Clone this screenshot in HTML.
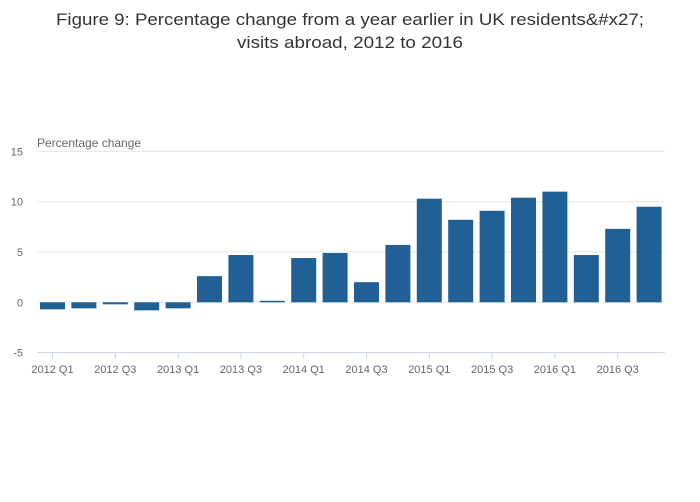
<!DOCTYPE html>
<html><head><meta charset="utf-8"><style>
body{margin:0;background:#fff;}
svg{display:block;font-family:"Liberation Sans",sans-serif;}
</style></head><body>
<svg id="chart" width="700" height="502">
<text x="350" y="25" text-anchor="middle" font-size="17" fill="#333" textLength="588" lengthAdjust="spacingAndGlyphs">Figure 9: Percentage change from a year earlier in UK residents&amp;#x27;</text>
<text x="350" y="48" text-anchor="middle" font-size="17" fill="#333" textLength="226" lengthAdjust="spacingAndGlyphs">visits abroad, 2012 to 2016</text>
<text x="37" y="147" font-size="12" fill="#666">Percentage change</text>
<g id="grid"></g><g id="bars"></g><g id="xaxis"></g>
</svg>
<script>
const categories=["2012 Q1","2012 Q2","2012 Q3","2012 Q4","2013 Q1","2013 Q2","2013 Q3","2013 Q4","2014 Q1","2014 Q2","2014 Q3","2014 Q4","2015 Q1","2015 Q2","2015 Q3","2015 Q4","2016 Q1","2016 Q2","2016 Q3","2016 Q4"];
const values=[-0.7,-0.6,-0.2,-0.8,-0.6,2.6,4.7,0.15,4.4,4.9,2.0,5.7,10.3,8.2,9.1,10.4,11.0,4.7,7.3,9.5];
const yTicks=[-5,0,5,10,15];
const ns="http://www.w3.org/2000/svg";
const x0=37,x1=665,step=31.4,firstC=52.5,barW=25;
function y(v){return 302.3-v*10.06;}
function xc(i){return firstC+i*step;}
function mk(t,a,p){const e=document.createElementNS(ns,t);for(const k in a)e.setAttribute(k,a[k]);p.appendChild(e);return e;}
const grid=document.getElementById('grid');
yTicks.forEach(v=>{
  if(v!==-5){const l=mk('line',{x1:x0,x2:x1,y1:y(v),y2:y(v),stroke:'#e6e6e6','stroke-width':1},grid);
  
  }
  const t=mk('text',{x:23,y:y(v)+4,'text-anchor':'end','font-size':11,fill:'#666'},grid);
  t.textContent=v;
  
  
});
const bars=document.getElementById('bars');
values.forEach((v,i)=>{
  const top=Math.min(y(v),y(0)),h=Math.abs(y(v)-y(0));
  const r=mk('rect',{x:xc(i)-barW/2,y:top,width:barW,height:Math.max(h,1),fill:'#206095'},bars);
  
  
});
const xa=document.getElementById('xaxis');
const ax=mk('line',{x1:x0,x2:x1,y1:y(-5),y2:y(-5),stroke:'#c8d4e3','stroke-width':1},xa);


categories.forEach((c,i)=>{
  if(i%2)return;
  const tk=mk('line',{x1:xc(i),x2:xc(i),y1:y(-5),y2:y(-5)+6,stroke:'#c8d4e3'},xa);
  
  
  const t=mk('text',{x:xc(i),y:373,'text-anchor':'middle','font-size':11,fill:'#666'},xa);
  t.textContent=c;
  
  
});
</script>
</body></html>
